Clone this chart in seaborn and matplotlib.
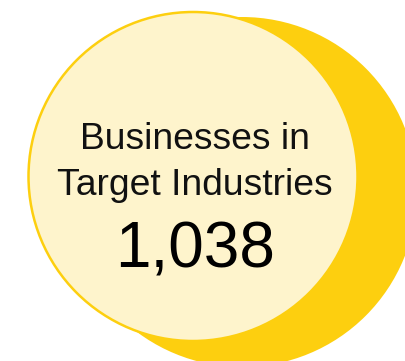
import matplotlib
matplotlib.use("Agg")
import matplotlib.pyplot as plt
from matplotlib.patches import Circle
import seaborn as sns

# Headline figure
label_lines = ["Businesses in", "Target Industries"]
business_count = 1038

sns.set_style("white")
plt.rcParams["font.family"] = ["Liberation Sans", "DejaVu Sans"]

GOLD = "#FDCF0F"
CREAM = "#FEF4CC"

fig = plt.figure(figsize=(4.06, 3.61), dpi=100)
ax = fig.add_axes([0, 0, 1, 1])
ax.set_xlim(0, 406)
ax.set_ylim(361, 0)
ax.set_aspect("equal")
ax.axis("off")

# Back disc, offset down and right
ax.add_patch(Circle((242, 192), 175, facecolor=GOLD, edgecolor="none", zorder=1))
# Front disc with thin gold rim
ax.add_patch(Circle((193, 176.5), 164.5, facecolor=CREAM, edgecolor=GOLD,
                    linewidth=1.8, zorder=2))

cx = 195
ax.text(cx, 149, label_lines[0], ha="center", va="baseline",
        fontsize=26.8, color="#111111", zorder=3)
ax.text(cx, 195, label_lines[1], ha="center", va="baseline",
        fontsize=26.8, color="#111111", zorder=3)
ax.text(cx, 268, f"{business_count:,}", ha="center", va="baseline",
        fontsize=46, color="#000000", zorder=3)

fig.savefig("out.png", dpi=100)
